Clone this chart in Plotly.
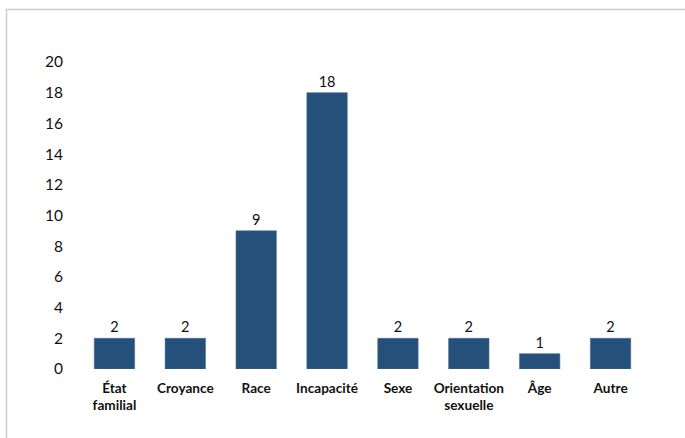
import plotly.graph_objects as go

categories = ["État<br>familial", "Croyance", "Race", "Incapacité", "Sexe", "Orientation<br>sexuelle", "Âge", "Autre"]
values = [2, 2, 9, 18, 2, 2, 1, 2]
y_ticks = [0, 2, 4, 6, 8, 10, 12, 14, 16, 18, 20]

fig = go.Figure()
fig.add_trace(go.Bar(
    x=list(range(len(categories))),
    y=values,
    marker=dict(color="#24507A", line=dict(color="#4A6E93", width=0.6)),
    text=[str(v) for v in values],
    textposition="outside",
    textfont=dict(family="Lato, Open Sans, sans-serif", size=14.5, color="#111111"),
    cliponaxis=False,
    width=0.57,
))

fig.update_layout(
    width=685, height=438,
    margin=dict(l=79, r=39, t=62, b=69),
    paper_bgcolor="white", plot_bgcolor="white",
    showlegend=False,
    font=dict(family="Lato, Open Sans, sans-serif", size=14, color="#111111"),
    xaxis=dict(
        tickmode="array",
        tickvals=list(range(len(categories))),
        ticktext=["<b>" + c.replace("<br>", "</b><br><b>") + "</b>" for c in categories],
        range=[-0.5, len(categories) - 0.5],
        showgrid=False, zeroline=False, showline=False,
        ticks="", ticklabelstandoff=9,
        tickfont=dict(size=13.6, family="Lato, Open Sans, sans-serif", color="#111111"),
    ),
    yaxis=dict(
        range=[0, 20],
        tickmode="array", tickvals=y_ticks,
        showgrid=False, zeroline=False, showline=False,
        ticks="", ticklabelstandoff=15,
        tickfont=dict(size=15.5, family="Lato, Open Sans, sans-serif", color="#111111"),
    ),
    shapes=[dict(
        type="rect", xref="paper", yref="paper",
        x0=(6.5 - 79) / (685 - 79 - 39), x1=(700 - 79) / (685 - 79 - 39),
        y0=(438 - 69 - 460) / (438 - 62 - 69), y1=(438 - 69 - 9.5) / (438 - 62 - 69),
        line=dict(color="#CCCCCC", width=1.5), fillcolor="rgba(0,0,0,0)",
        layer="below",
    )],
)

fig.write_html("out.html")
